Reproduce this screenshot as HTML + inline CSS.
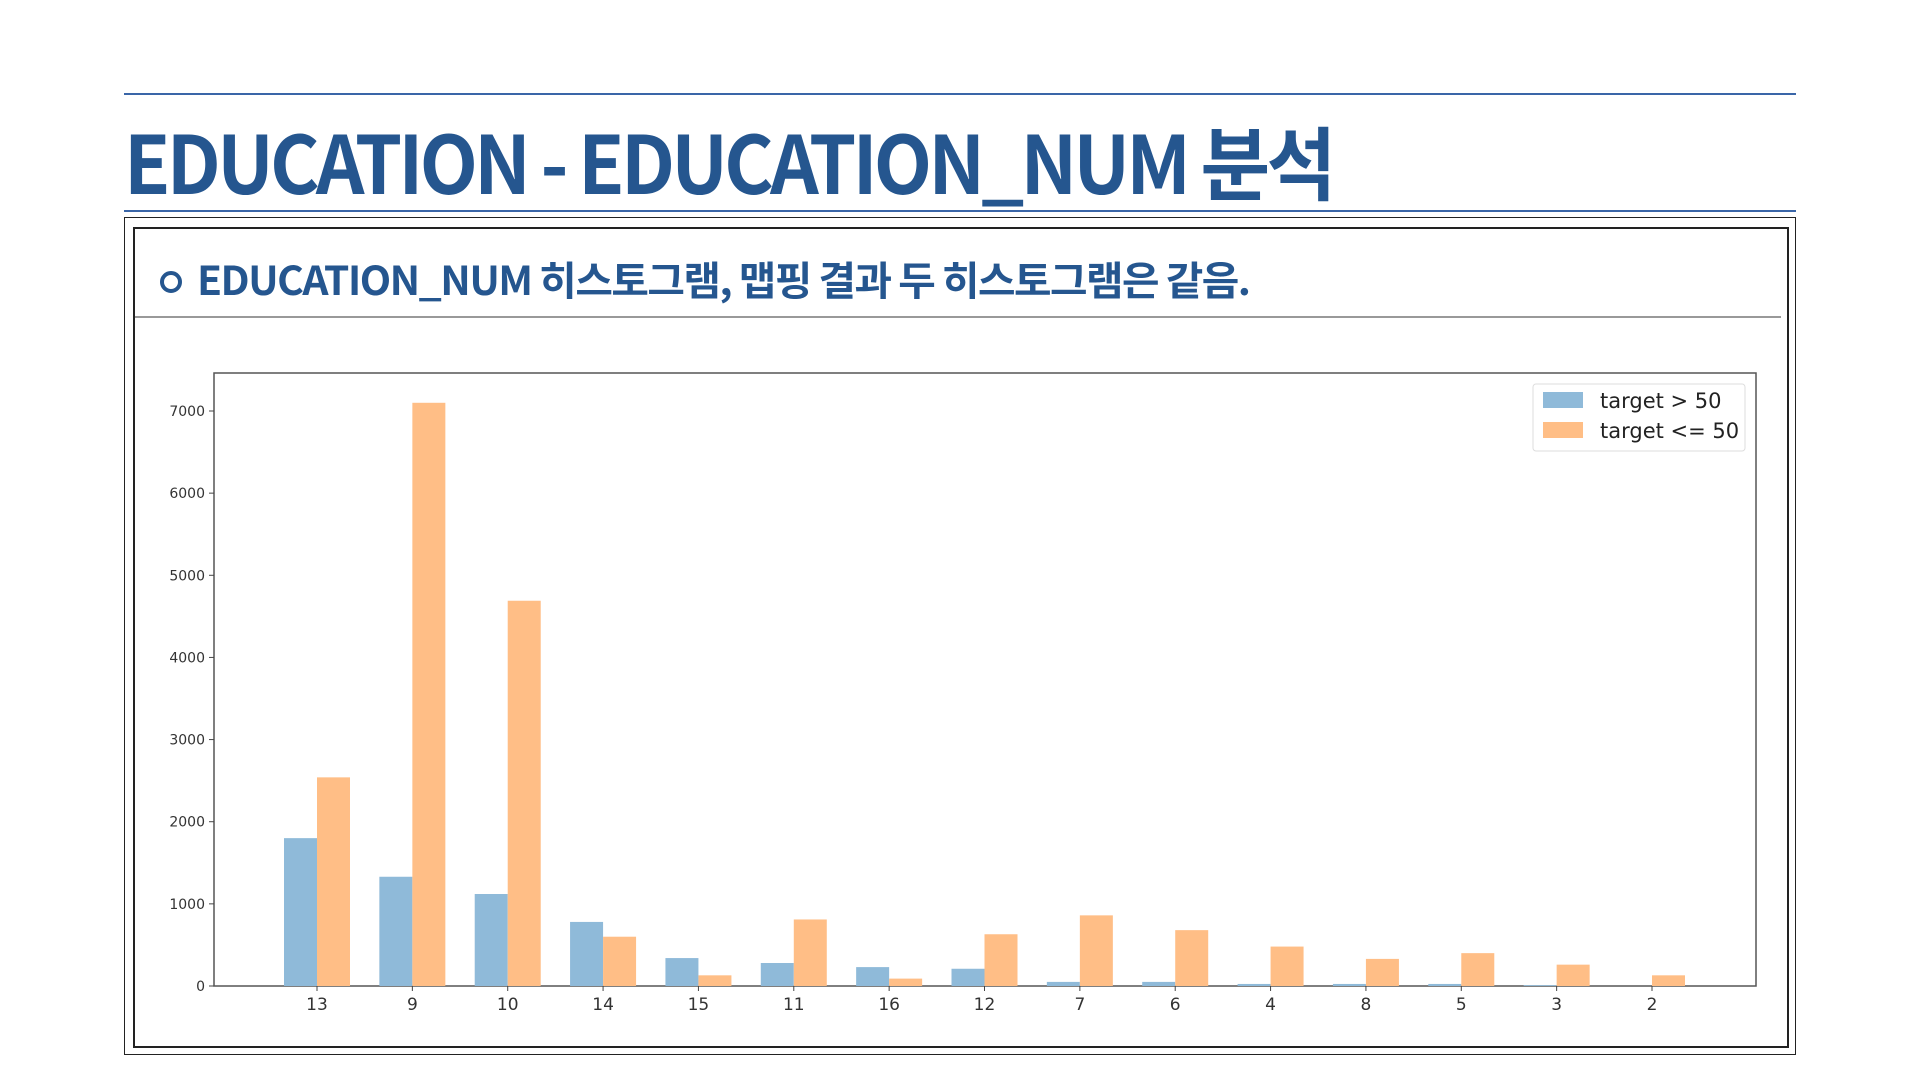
<!DOCTYPE html>
<html><head><meta charset="utf-8"><style>
body{margin:0;width:1920px;height:1080px;background:#fff;position:relative;overflow:hidden;font-family:"Liberation Sans","Noto Sans CJK KR",sans-serif}
.abs{position:absolute}
</style></head><body>
<div class="abs" style="left:124px;top:93px;width:1672px;height:2px;background:#3a66a8"></div>
<div class="abs" style="left:124px;top:102px;font:bold 80px 'Noto Sans CJK KR',sans-serif;color:#25568f;letter-spacing:-4px;white-space:nowrap;transform:scaleX(0.947);transform-origin:left">EDUCATION - EDUCATION_NUM 분석</div>
<div class="abs" style="left:124px;top:210px;width:1672px;height:2px;background:#3a66a8"></div>
<div class="abs" style="left:124px;top:217px;width:1670px;height:836px;border:1.5px solid #222"></div>
<div class="abs" style="left:133px;top:227px;width:1652px;height:817px;border:2px solid #222"></div>
<div class="abs" style="left:160px;top:271px;width:14px;height:14px;border:4px solid #25568f;border-radius:50%"></div>
<div class="abs" style="left:197px;top:249px;font:bold 40px 'Noto Sans CJK KR',sans-serif;color:#25568f;letter-spacing:-1.5px;white-space:nowrap;transform:scaleX(1.02);transform-origin:left">EDUCATION_NUM 히스토그램, 맵핑 결과 두 히스토그램은 같음.</div>
<div class="abs" style="left:135px;top:316px;width:1646px;height:2px;background:#999"></div>
<svg class="abs" style="left:0;top:0" width="1920" height="1080" id="chart"></svg>
<script>
const categories=["13","9","10","14","15","11","16","12","7","6","4","8","5","3","2"];
const over50=[1800,1330,1120,780,340,280,230,210,50,50,25,25,25,10,0];
const under50=[2540,7100,4690,600,130,810,90,630,860,680,480,330,400,260,130];
const yTicks=[0,1000,2000,3000,4000,5000,6000,7000];
const svg=document.getElementById('chart');const NS='http://www.w3.org/2000/svg';
const L=214,R=1756,T=373,B=986;
const x0=317,step=(1652-317)/14,bw=33;
const y=v=>B-v*(986-411)/7000;
const x=i=>x0+i*step;
function mk(t,a){const e=document.createElementNS(NS,t);for(const k in a)e.setAttribute(k,a[k]);svg.appendChild(e);return e;}
let f=mk('rect',{x:L,y:T,width:R-L,height:B-T,fill:'none',stroke:'#555','stroke-width':1.5});


yTicks.forEach(v=>{
 let tk=mk('line',{x1:L-5,x2:L,y1:y(v),y2:y(v),stroke:'#444'});
 
 
 let t=mk('text',{x:L-9,y:y(v)+5,'text-anchor':'end','font-size':14,fill:'#333','font-family':'DejaVu Sans, sans-serif'});
 t.textContent=v;
 
 
});
categories.forEach((c,i)=>{
 let b1=mk('rect',{x:x(i)-bw,y:y(over50[i]),width:bw,height:B-y(over50[i]),fill:'#8fbad9'});
 
 
 let b2=mk('rect',{x:x(i),y:y(under50[i]),width:bw,height:B-y(under50[i]),fill:'#ffbe86'});
 
 
 let tk=mk('line',{x1:x(i),x2:x(i),y1:B,y2:B+5,stroke:'#444'});
 
 
 let t=mk('text',{x:x(i),y:B+24,'text-anchor':'middle','font-size':17,fill:'#333','font-family':'DejaVu Sans, sans-serif'});
 t.textContent=c;
 
 
});
let lg=mk('rect',{x:1533,y:384,width:212,height:67,fill:'#fff',stroke:'#ddd',rx:3});


[['#8fbad9','target > 50',401],['#ffbe86','target <= 50',431]].forEach(([col,lab,yy])=>{
 let s=mk('rect',{x:1543,y:yy-9,width:40,height:16,fill:col});
 
 
 let t=mk('text',{x:1600,y:yy+7,'font-size':21,fill:'#222','font-family':'DejaVu Sans, sans-serif'});
 t.textContent=lab;
 
 
});
</script>
</body></html>
